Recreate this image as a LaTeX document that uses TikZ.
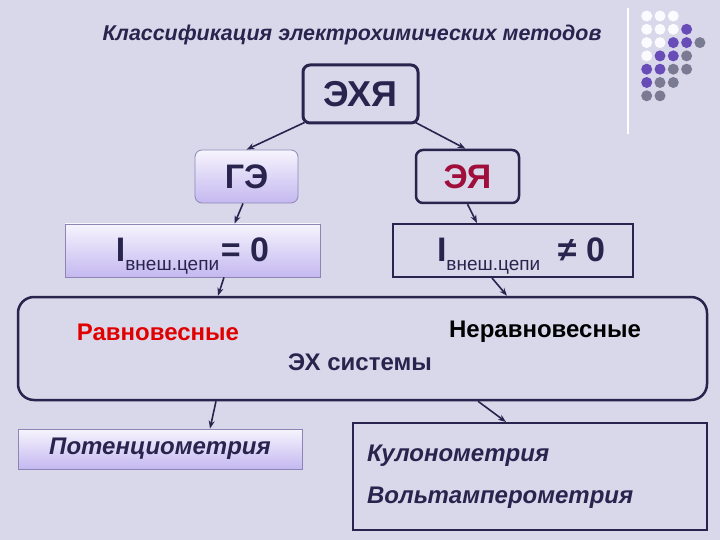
\documentclass[tikz,border=0pt]{standalone}
\usepackage{fontspec}
\setmainfont{Liberation Sans}
\usetikzlibrary{arrows.meta, positioning}
\definecolor{bgcol}{RGB}{216, 216, 234}
\definecolor{navy}{RGB}{40, 36, 78}
\definecolor{lilac}{RGB}{196, 184, 240}
\definecolor{lilacedge}{RGB}{140, 134, 180}
\definecolor{crimson}{RGB}{160, 14, 60}
\definecolor{redtext}{RGB}{225, 0, 0}
\definecolor{dotpurple}{RGB}{104, 76, 184}
\definecolor{dotgray}{RGB}{122, 122, 146}
\definecolor{dotwhite}{RGB}{250, 250, 255}
\newcommand{\Iout}[1]{\raisebox{-11pt}[0pt][0pt]{{\fontsize{34}{34}\selectfont I}\raisebox{-9pt}{\fontsize{19}{19}\selectfont\mdseries внеш.цепи}\,{\fontsize{34}{34}\selectfont #1}}}

\begin{document}
\begin{tikzpicture}[x=1pt, y=-1pt,
    darkbox/.style={rectangle, draw=navy, line width=2.5pt, fill=bgcol, text=navy,
                    inner sep=0pt, font=\bfseries\fontsize{34}{34}\selectfont},
    lightbox/.style={rectangle, draw=lilacedge, line width=0.8pt, top color=white!85!lilac,
                     bottom color=lilac, text=navy, inner sep=0pt},
    link/.style={-{Stealth[length=8pt, width=6pt]}, line width=1.6pt, draw=navy}]

    % Background
    \useasboundingbox (0,0) rectangle (720,540);
    \fill[bgcol] (0,0) rectangle (720,540);

    % Corner decoration
    \draw[white, line width=1.5pt] (628,8) -- (628,134);
    \foreach \c/\r/\col in {0/0/dotwhite, 1/0/dotwhite, 2/0/dotwhite,
                            0/1/dotwhite, 1/1/dotwhite, 2/1/dotwhite, 3/1/dotpurple,
                            0/2/dotwhite, 1/2/dotwhite, 2/2/dotpurple, 3/2/dotpurple, 4/2/dotgray,
                            0/3/dotwhite, 1/3/dotpurple, 2/3/dotpurple, 3/3/dotgray,
                            0/4/dotpurple, 1/4/dotpurple, 2/4/dotgray, 3/4/dotgray,
                            0/5/dotpurple, 1/5/dotgray, 2/5/dotgray,
                            0/6/dotgray, 1/6/dotgray}
        \fill[\col] (646.7+13.3*\c, 16+13.3*\r) circle (5.5pt);

    % Title
    \node[text=navy, font=\bfseries\itshape\fontsize{21.4}{22}\selectfont] (title) at (352,35)
        {Классификация электрохимических методов};

    % Top levels
    \node[darkbox, rounded corners=7pt, line width=3pt, minimum width=115pt, minimum height=58pt,
          font=\bfseries\fontsize{36}{36}\selectfont] (exy) at (360.5,94) {ЭХЯ};
    \node[lightbox, rounded corners=7pt, minimum width=103pt, minimum height=53pt,
          font=\bfseries\fontsize{34}{34}\selectfont] (ge) at (246.5,176.5) {ГЭ};
    \node[darkbox, rounded corners=7pt, text=crimson, minimum width=103pt, minimum height=53pt]
        (ey) at (467.5,176.5) {ЭЯ};

    % Current conditions
    \node[lightbox, minimum width=255pt, minimum height=53pt, font=\bfseries] (izero) at (192.5,250.5)
        {\Iout{= 0}};
    \node[darkbox, line width=2pt, minimum width=240pt, minimum height=53pt, font=\bfseries] (inonzero)
        at (513,250.5) {\hspace*{16pt}\Iout{\hspace{16pt}≠ 0}};

    % Systems
    \node[darkbox, rounded corners=16pt, minimum width=689pt, minimum height=103pt] (sys)
        at (362.5,348.5) {};
    \node[text=redtext, font=\bfseries\fontsize{24}{24}\selectfont] (eq) at (158,332) {Равновесные};
    \node[text=black, font=\bfseries\fontsize{24}{24}\selectfont] (neq) at (545,332) {Неравновесные};
    \node[text=navy, font=\bfseries\fontsize{24}{24}\selectfont] (sysname) at (360,362) {ЭХ системы};

    % Methods
    \node[lightbox, minimum width=284pt, minimum height=40pt,
          font=\bfseries\itshape\fontsize{24}{24}\selectfont] (pot) at (160,449) {Потенциометрия};
    \node[darkbox, line width=2pt, minimum width=354pt, minimum height=107pt, text width=326pt,
          align=left, font=\bfseries\itshape\fontsize{24}{42}\selectfont] (kul) at (530,476.5)
        {Кулонометрия\\Вольтамперометрия};

    % Arrows
    \draw[link] ([xshift=3pt, yshift=2pt]exy.south west) -- (ge.north);
    \draw[link] ([xshift=-4pt, yshift=2pt]exy.south east) -- ([xshift=-2pt]ey.north);
    \draw[link] ([xshift=-3.5pt]ge.south) -- ([xshift=42pt]izero.north);
    \draw[link] (ey.south) -- ([xshift=-36pt]inonzero.north);
    \draw[link] ([xshift=31.5pt]izero.south) -- ([xshift=-144.5pt]sys.north);
    \draw[link] ([xshift=-21pt]inonzero.south) -- ([xshift=144.5pt]sys.north);
    \draw[link] ([xshift=-146.5pt]sys.south) -- ([xshift=50pt]pot.north);
    \draw[link] ([xshift=115.5pt]sys.south) -- ([xshift=-24pt]kul.north);
\end{tikzpicture}
\end{document}
